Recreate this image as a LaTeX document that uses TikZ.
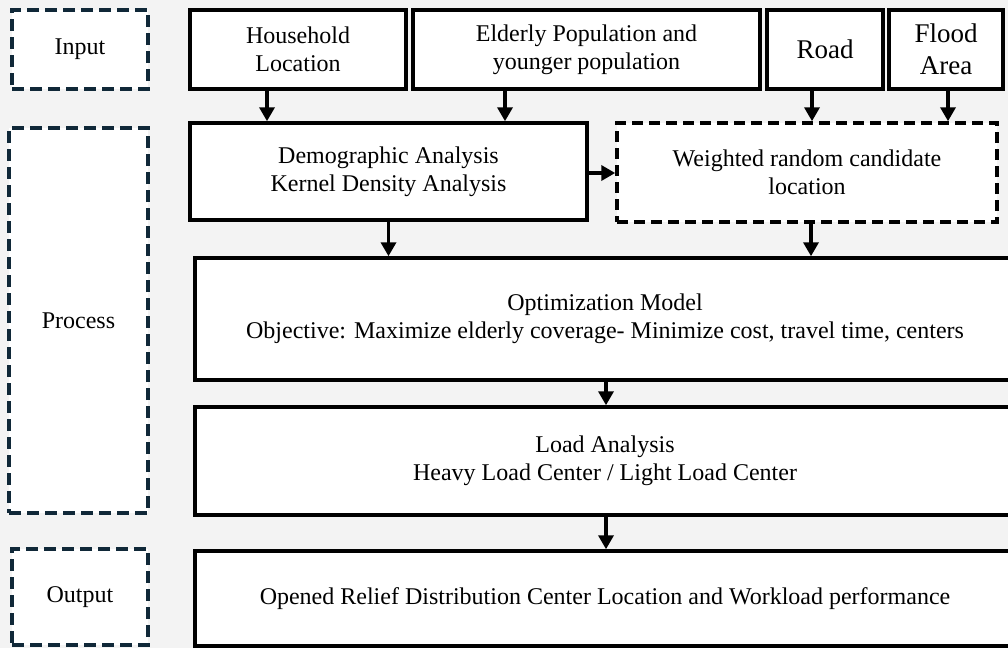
\documentclass[tikz,border=0pt]{standalone}
\usepackage{fontspec}
\setmainfont{Liberation Serif}
\usepackage{xcolor}
\definecolor{bgrey}{RGB}{243,243,243}
\definecolor{stagenavy}{RGB}{16,40,56}
\usetikzlibrary{arrows.meta,calc}

\begin{document}
\begin{tikzpicture}[x=1pt,y=-1pt,font=\fontsize{24}{28}\selectfont,
  stagebox/.style={draw=stagenavy,line width=3.5pt,dash pattern=on 12pt off 6pt,fill=white,align=center,inner sep=0pt},
  solidbox/.style={draw,line width=3.5pt,fill=white,align=center,inner sep=0pt},
  arr/.style={line width=3.5pt,-{Triangle[length=14pt,width=15pt]}}]
  \useasboundingbox[fill=bgrey] (0,0) rectangle (1008,648);
  % stages
  \node[stagebox,minimum width=136,minimum height=79] (inp) at (80,49.5) {Input};
  \node[stagebox,minimum width=139,minimum height=385] (proc) at (78.5,320.5) {Process};
  \node[stagebox,minimum width=136,minimum height=96] (outp) at (80,597) {Output};
  % inputs
  \node[solidbox,minimum width=216,minimum height=79] (house) at (298,49.5) {Household\\Location};
  \node[solidbox,minimum width=347,minimum height=79] (elder) at (586.5,49.5) {Elderly Population and\\younger population};
  \node[solidbox,minimum width=116,minimum height=79,font=\fontsize{27}{32}\selectfont] (road) at (825,49.5) {Road};
  \node[solidbox,minimum width=114,minimum height=79,font=\fontsize{27}{32}\selectfont] (flood) at (946,49.5) {Flood\\Area};
  % process
  \node[solidbox,minimum width=397,minimum height=97] (demo) at (388.5,171.5) {Demographic Analysis\\Kernel Density Analysis};
  \node[solidbox,dash pattern=on 11pt off 6pt,minimum width=380,minimum height=99] (cand) at (807,172.5) {Weighted random candidate\\location};
  \node[solidbox,minimum width=820,minimum height=122] (optim) at (605,319) {Optimization Model\\Objective: Maximize elderly coverage- Minimize cost, travel time, centers};
  \node[solidbox,minimum width=820,minimum height=108] (load) at (605,461) {Load Analysis\\Heavy Load Center / Light Load Center};
  % output
  \node[solidbox,minimum width=820,minimum height=95] (result) at (605,598.5) {Opened Relief Distribution Center Location and Workload performance};
  % arrows
  \draw[arr] ([xshift=-31pt]house.south) -- ([xshift=-31pt]house.south |- demo.north);
  \draw[arr] ([xshift=-81.5pt]elder.south) -- ([xshift=-81.5pt]elder.south |- demo.north);
  \draw[arr] ([xshift=-13pt]road.south) -- ([xshift=-13pt]road.south |- cand.north);
  \draw[arr] ([xshift=2pt]flood.south) -- ([xshift=2pt]flood.south |- cand.north);
  \draw[arr] ([yshift=-1.5pt]demo.east) -- ([yshift=-1.5pt]demo.east -| cand.west);
  \draw[arr] (demo.south) -- (demo.south |- optim.north);
  \draw[arr] ([xshift=4pt]cand.south) -- ([xshift=4pt]cand.south |- optim.north);
  \draw[arr] ([xshift=1pt]optim.south) -- ([xshift=1pt]optim.south |- load.north);
  \draw[arr] ([xshift=1pt]load.south) -- ([xshift=1pt]load.south |- result.north);
\end{tikzpicture}
\end{document}
